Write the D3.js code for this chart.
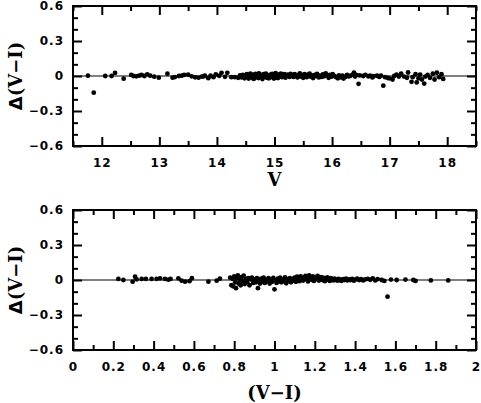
<!DOCTYPE html>
<html>
<head>
<meta charset="utf-8">
<script src="https://cdn.jsdelivr.net/npm/d3@7"></script>
<style>
  body { margin: 0; background: #fff; }
  .tick text { font-family: "DejaVu Sans", sans-serif; font-weight: bold; font-size: 12px; letter-spacing: 1px; }
  .title { font-family: "DejaVu Serif", serif; font-weight: bold; font-size: 18px; }
</style>
</head>
<body>
<div id="chart"></div>
<script>
// top panel: V magnitude vs Delta(V-I)
const vMag = [11.76, 11.86, 12.06, 12.17, 12.23, 12.38, 12.51, 12.55, 12.60, 12.65, 12.69, 12.74, 12.79, 12.84, 12.91, 12.99,
  13.14, 13.23, 13.27, 13.34, 13.39, 13.43, 13.50, 13.56, 13.62, 13.68, 13.74, 13.77, 13.79, 13.85, 13.89, 13.94, 13.98,
  14.04, 14.08, 14.14, 14.18, 14.25, 14.31, 14.37,
  14.40, 14.43, 14.45, 14.48, 14.50, 14.52, 14.53, 14.55, 14.57, 14.58, 14.60, 14.61, 14.63, 14.64, 14.66, 14.67, 14.69,
  14.70, 14.72, 14.73, 14.75, 14.76, 14.78, 14.79, 14.81, 14.82, 14.84, 14.85, 14.87, 14.88, 14.90, 14.91, 14.93, 14.94,
  14.96, 14.97, 14.99, 15.00, 15.02, 15.03, 15.05, 15.06, 15.08, 15.10, 15.11, 15.13, 15.15, 15.17, 15.19, 15.21, 15.23,
  15.26, 15.28, 15.30,
  15.33, 15.35, 15.37, 15.40, 15.42, 15.44, 15.46, 15.48, 15.50, 15.52, 15.54, 15.56, 15.58, 15.61, 15.63, 15.65, 15.67,
  15.70, 15.72, 15.74, 15.77, 15.79, 15.82, 15.84, 15.86, 15.89, 15.91, 15.94, 15.96, 15.99, 16.01, 16.04, 16.07, 16.10,
  16.12, 16.15, 16.18, 16.20, 16.23, 16.26, 16.29, 16.32,
  16.36, 16.38, 16.40, 16.42, 16.46, 16.48, 16.54, 16.58, 16.63, 16.66, 16.70, 16.72, 16.78, 16.82, 16.85, 16.89, 16.92,
  16.97, 17.00, 17.05, 17.08, 17.12, 17.16, 17.20, 17.25, 17.30, 17.32, 17.38, 17.40, 17.45, 17.47, 17.50, 17.53, 17.56,
  17.60, 17.62, 17.66, 17.70, 17.75, 17.78, 17.82, 17.86, 17.90, 17.93];
const dTop = [0.003, -0.143, 0.000, 0.000, 0.026, -0.023, 0.009, 0.000, -0.003, 0.003, 0.009, 0.000, 0.014, 0.003, -0.006, -0.014,
  0.020, -0.014, -0.009, 0.000, 0.003, 0.009, 0.011, -0.003, -0.011, -0.014, -0.006, -0.003, 0.002, -0.019, 0.004, -0.010, 0.013,
  0.002, 0.027, -0.007, 0.027, -0.010, -0.010, -0.015,
  0.005, -0.012, 0.010, -0.020, 0.002, 0.015, -0.008, -0.022, 0.008, 0.020, -0.005, -0.015, 0.012, -0.025, 0.000, 0.018, -0.010,
  0.006, -0.018, 0.022, -0.003, 0.010, -0.012, -0.026, 0.015, 0.003, -0.008, 0.020, -0.015, 0.008, -0.020, 0.000, 0.012, -0.010,
  0.017, -0.004, -0.022, 0.009, 0.024, -0.012, 0.004, -0.018, 0.014, -0.006, 0.020, -0.010, 0.006, 0.016, -0.014, 0.002, 0.012,
  -0.008, 0.018, 0.004,
  -0.008, 0.015, 0.004, -0.012, 0.010, 0.022, -0.005, 0.008, -0.015, 0.016, 0.002, -0.010, 0.012, 0.020, -0.006, 0.006, -0.018,
  0.010, 0.000, 0.018, -0.012, 0.004, -0.008, 0.014, -0.003, 0.022, 0.006, -0.015, 0.010, -0.006, 0.016, 0.000, -0.010, -0.020,
  0.006, -0.012, 0.004, -0.022, -0.008, 0.010, -0.004, 0.002,
  0.012, 0.028, -0.005, 0.010, -0.067, 0.005, 0.000, 0.010, -0.004, 0.004, -0.012, -0.002, 0.002, -0.008, 0.004, -0.083, -0.010,
  -0.017, -0.020, -0.030, 0.000, 0.012, -0.005, 0.020, -0.005, -0.015, 0.030, -0.050, -0.010, 0.015, -0.055, -0.020, 0.012, -0.030,
  -0.065, -0.005, 0.010, -0.015, 0.020, -0.030, 0.028, -0.010, 0.015, -0.025];

// bottom panel: (V-I) colour vs Delta(V-I)
const colVI = [0.225, 0.250, 0.296, 0.308, 0.316, 0.341, 0.362, 0.390, 0.415, 0.432, 0.456, 0.473, 0.484, 0.523, 0.539, 0.556,
  0.578, 0.590, 0.672, 0.713, 0.729,
  0.780, 0.786, 0.792, 0.796, 0.800, 0.805, 0.809, 0.813, 0.818, 0.822, 0.827, 0.832, 0.837, 0.842, 0.847, 0.852, 0.858,
  0.864, 0.870, 0.876, 0.882, 0.888, 0.894,
  0.903, 0.908, 0.913, 0.918, 0.923, 0.928, 0.934, 0.940, 0.946, 0.952, 0.958, 0.964, 0.970, 0.976, 0.982, 0.988, 0.994, 1.000,
  1.005, 1.010, 1.016, 1.022, 1.028, 1.034, 1.040, 1.046, 1.052, 1.058, 1.064, 1.070, 1.076, 1.082, 1.088, 1.094,
  1.100, 1.106, 1.112, 1.118, 1.124, 1.130, 1.136, 1.142, 1.148, 1.154, 1.160, 1.166, 1.172, 1.178, 1.184, 1.190, 1.196, 1.202,
  1.208, 1.214, 1.220, 1.226, 1.232, 1.238, 1.244, 1.250, 1.256, 1.262, 1.268, 1.274, 1.280, 1.286, 1.292, 1.298,
  1.305, 1.312, 1.318, 1.325, 1.332, 1.340, 1.347, 1.355, 1.362, 1.370, 1.378, 1.386, 1.394, 1.402, 1.410, 1.420, 1.430, 1.440,
  1.450, 1.462, 1.475, 1.488, 1.500, 1.512,
  1.532, 1.545, 1.561, 1.578, 1.606, 1.650, 1.689, 1.700, 1.776, 1.862];
const dBot = [0.009, 0.000, -0.014, 0.028, 0.006, 0.009, 0.009, 0.009, 0.009, 0.014, 0.009, 0.003, 0.009, 0.014, -0.006, -0.014,
  -0.010, 0.015, -0.014, -0.006, 0.011,
  0.020, -0.045, 0.010, -0.055, 0.030, -0.020, -0.070, 0.015, 0.040, -0.030, 0.005, -0.045, 0.025, -0.010, 0.038, -0.035, 0.010,
  -0.020, 0.015, -0.045, 0.005, 0.020, -0.025,
  0.005, -0.020, 0.015, -0.070, -0.005, -0.030, 0.012, -0.015, 0.020, -0.025, 0.000, -0.010, 0.015, -0.030, 0.005, -0.015, 0.018, -0.080,
  -0.005, -0.025, 0.012, -0.012, 0.020, -0.020, 0.005, -0.010, 0.022, -0.028, 0.008, -0.008, 0.015, -0.020, 0.010, -0.005,
  0.020, -0.015, 0.028, 0.005, -0.010, 0.030, 0.012, -0.005, 0.022, 0.035, 0.008, -0.012, 0.040, 0.018, 0.002, 0.030, -0.008, 0.022,
  0.010, 0.035, -0.005, 0.015, 0.025, 0.000, 0.018, -0.010, 0.012, 0.022, 0.004, -0.008, 0.015, 0.006, -0.004, 0.012,
  0.004, -0.006, 0.010, 0.002, -0.008, 0.008, 0.000, 0.012, -0.004, 0.006, 0.000, 0.010, -0.006, 0.004, 0.012, 0.000, 0.008, -0.004,
  0.006, 0.010, 0.002, 0.014, -0.004, 0.008,
  0.000, -0.008, -0.143, 0.004, 0.000, 0.004, 0.000, -0.008, -0.004, -0.004];

// axes ticks
const yMajor = [-0.6, -0.3, 0, 0.3, 0.6];
const yMinor = [-0.5, -0.4, -0.2, -0.1, 0.1, 0.2, 0.4, 0.5];
const vMajor = [12, 13, 14, 15, 16, 17, 18];
const vMinor = [11.5, 12.5, 13.5, 14.5, 15.5, 16.5, 17.5, 18.5];
const cMajor = [0, 0.2, 0.4, 0.6, 0.8, 1, 1.2, 1.4, 1.6, 1.8, 2];
const cMinor = [0.1, 0.3, 0.5, 0.7, 0.9, 1.1, 1.3, 1.5, 1.7, 1.9];

const width = 481, height = 403;
const left = 73, right = 476;
const bigTick = 9, smallTick = 5;

const svg = d3.select("#chart").append("svg")
    .attr("width", width)
    .attr("height", height);

const yFmt = d => d === 0 ? "0" : d3.format(".1f")(d);

function panel(X, Y, xDomain, xMaj, xMin, top, bottom, xTitle, titleY) {
  const x = d3.scaleLinear(xDomain, [left, right]);
  const y = d3.scaleLinear([-0.6, 0.6], [bottom, top]);
  const g = svg.append("g");

  // tick marks on all four sides, pointing inward
  const addAxis = (axis, tx, ty) => g.append("g")
      .attr("transform", `translate(${tx},${ty})`)
      .call(axis)
      .call(a => a.select(".domain").remove())
      .call(a => a.selectAll("line").attr("stroke-width", 2));

  addAxis(d3.axisBottom(x).tickValues(xMaj).tickSize(-bigTick).tickPadding(12)
      .tickFormat(d => d3.format("~g")(d)), 0, bottom);
  addAxis(d3.axisBottom(x).tickValues(xMin).tickSize(-smallTick).tickFormat(""), 0, bottom);
  addAxis(d3.axisTop(x).tickValues(xMaj).tickSize(-bigTick).tickFormat(""), 0, top);
  addAxis(d3.axisTop(x).tickValues(xMin).tickSize(-smallTick).tickFormat(""), 0, top);
  addAxis(d3.axisLeft(y).tickValues(yMajor).tickSize(-bigTick).tickPadding(9).tickFormat(yFmt), left, 0);
  addAxis(d3.axisLeft(y).tickValues(yMinor).tickSize(-smallTick).tickFormat(""), left, 0);
  addAxis(d3.axisRight(y).tickValues(yMajor).tickSize(-bigTick).tickFormat(""), right, 0);
  addAxis(d3.axisRight(y).tickValues(yMinor).tickSize(-smallTick).tickFormat(""), right, 0);

  g.selectAll(".tick text").attr("fill", "#000");

  // zero line
  g.append("line")
      .attr("x1", left).attr("x2", right)
      .attr("y1", y(0)).attr("y2", y(0))
      .attr("stroke", "#000").attr("stroke-width", 1);

  g.append("rect")
      .attr("x", left).attr("y", top)
      .attr("width", right - left).attr("height", bottom - top)
      .attr("fill", "none").attr("stroke", "#000").attr("stroke-width", 2);

  g.append("g")
    .selectAll("circle")
    .data(d3.range(X.length))
    .join("circle")
      .attr("cx", i => x(X[i]))
      .attr("cy", i => y(Y[i]))
      .attr("r", 2.4)
      .attr("fill", "#000");

  g.append("text")
      .attr("class", "title")
      .attr("x", (left + right) / 2)
      .attr("y", titleY)
      .attr("text-anchor", "middle")
      .text(xTitle);

  const yt = g.append("text")
      .attr("class", "title")
      .attr("text-anchor", "middle")
      .attr("transform", `translate(22,${y(0)}) rotate(-90)`);
  yt.append("tspan").attr("font-family", "DejaVu Sans").text("Δ");
  yt.append("tspan").text("(V−I)");
}

panel(vMag, dTop, [11.5, 18.5], vMajor, vMinor, 6, 146, "V", 186);
panel(colVI, dBot, [0, 2], cMajor, cMinor, 210, 350, "(V−I)", 399);
</script>
</body>
</html>
